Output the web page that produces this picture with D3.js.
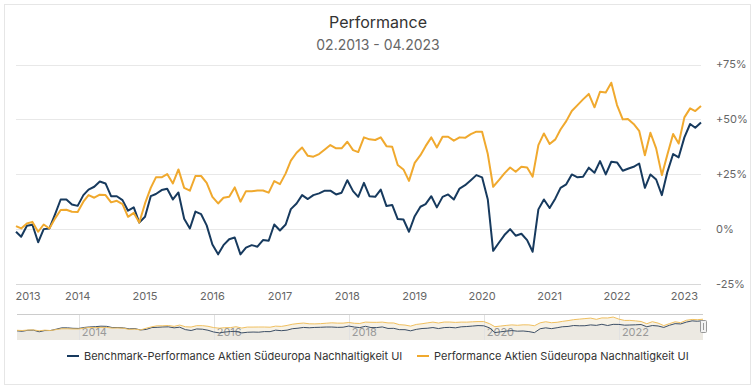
<!DOCTYPE html>
<html>
<head>
<meta charset="utf-8">
<script src="https://cdn.jsdelivr.net/npm/d3@7/dist/d3.min.js"></script>
<style>
  body { margin: 0; background: #fff; font-family: Inter, "Noto Sans", sans-serif; }
  svg { display: block; }
</style>
</head>
<body>
<svg width="756" height="389"></svg>
<script>
// monthly points, first one is 02.2013
var startMonth = new Date(2013, 1, 1);

var benchmark = [
  -1.2, -3.5, 1.5, 2, -6, 0, 0.3, 6.8, 13.5, 13.5, 11.2, 10.6, 15.5, 18, 19.3, 21.7,
  20.8, 15, 15, 13.2, 8.4, 9.9, 3, 5.6, 15, 16, 17.8, 18.4, 13.5, 16.7, 4.7, 0.3,
  8, 6.8, 1.7, -7, -11.5, -7.3, -4.6, -3.8, -11.5, -8.4, -7.3, -8, -5, -5.3, 2.1, -0.6,
  2.1, 9.1, 11.7, 15.5, 13.7, 15.5, 16.3, 17.5, 17.5, 15.8, 16.6, 22.3, 17.3, 14.7, 21.1, 15,
  14.7, 18, 10.5, 11, 4.6, 4.4, -1.2, 5.9, 10.2, 11.4, 15, 9.9, 14.7, 15.8, 13.5, 18.5,
  20, 22.3, 24.6, 23.6, 13.5, -9.9, -6.2, -2.7, 0, -3, -2.1, -5, -10.3, 9, 13.5, 9.6,
  14, 18.8, 20.4, 24.9, 23.6, 23.9, 28, 25.7, 31, 24.9, 30.7, 30.4, 26.6, 27.5, 28.4, 29.9,
  18.8, 24.9, 22.6, 15.5, 26.1, 34.2, 32.7, 41.8, 47.9, 46.2, 48.6
];

var fund = [
  1.4, 0.3, 2.6, 3.3, -1.2, 2.1, 0.3, 4.9, 8.7, 8.8, 7.9, 7.8, 12.5, 15.5, 14.3, 15.7,
  15.5, 12.2, 12.9, 11.4, 5.6, 7.4, 3, 11.7, 18.8, 23.6, 23.6, 25.1, 20.8, 27.2, 18.8, 17.5,
  24.2, 24.2, 21.1, 14.7, 11.7, 14.3, 14.7, 19, 12.5, 17.3, 17.3, 17.6, 17.6, 16.6, 21.9, 20.5,
  25.4, 31.2, 34.8, 37.2, 33.4, 33, 34.2, 36.3, 38.3, 36.8, 36.8, 39.8, 36, 35.1, 41.8, 40.9,
  40.6, 41.8, 37.8, 37.5, 29.2, 27.2, 22, 30.2, 33.7, 37.8, 41.8, 37.2, 42.1, 42.1, 40.3, 41.8,
  41.6, 43.3, 44.4, 44.4, 34.2, 19.3, 22.3, 25.4, 28.1, 26.1, 28.4, 28.1, 23.9, 38.3, 43.6, 38.8,
  40.9, 45.4, 49.2, 53.8, 56.5, 59.1, 61.6, 55.5, 62.6, 62.2, 66.7, 56.5, 50, 50.2, 47.9, 44.8,
  33.7, 43.9, 36.8, 24.6, 34, 43.3, 39, 50.9, 55, 53.8, 56.1
];

var yTicks = [-25, 0, 25, 50, 75];
var yearLabels = [2013, 2014, 2015, 2016, 2017, 2018, 2019, 2020, 2021, 2022, 2023];
var navYears = [2014, 2016, 2018, 2020, 2022];
var seriesNames = ["Benchmark-Performance Aktien Südeuropa Nachhaltigkeit UI", "Performance Aktien Südeuropa Nachhaltigkeit UI"];
var colors = ["#173a5e", "#f0a92e"];

var svg = d3.select("svg");

var dates = benchmark.map(function(d, i) { return d3.timeMonth.offset(startMonth, i); });

// card
svg.append("rect")
  .attr("x", 4.5).attr("y", 4.5).attr("width", 746).attr("height", 380)
  .attr("fill", "#fff").attr("stroke", "#e6e6e6");

svg.append("text")
  .attr("x", 378).attr("y", 28)
  .attr("text-anchor", "middle")
  .style("font-size", "16px").style("fill", "#333")
  .text("Performance");

svg.append("text")
  .attr("x", 378).attr("y", 50)
  .attr("text-anchor", "middle")
  .style("font-size", "14px").style("fill", "#666")
  .text("02.2013 - 04.2023");

var x = d3.scaleTime()
  .domain([dates[0], dates[dates.length - 1]])
  .range([16, 701]);

var y = d3.scaleLinear()
  .domain([-25, 75])
  .range([284, 64.5]);

// grid
svg.append("g").selectAll("line")
  .data(yTicks)
  .enter().append("line")
  .attr("x1", 16).attr("x2", 701)
  .attr("y1", function(d) { return Math.round(y(d)) + 0.5; })
  .attr("y2", function(d) { return Math.round(y(d)) + 0.5; })
  .attr("stroke", function(d) { return d === -25 ? "#d8d8d8" : "#e8e8e8"; });

svg.append("g").selectAll("text")
  .data(yTicks)
  .enter().append("text")
  .attr("x", 716)
  .attr("y", function(d) { return y(d); })
  .attr("dy", "0.35em")
  .style("font-size", "11px").style("fill", "#666")
  .text(function(d) { return d > 0 ? "+" + d + "%" : d + "%"; });

svg.append("g").selectAll("text")
  .data(yearLabels)
  .enter().append("text")
  .attr("x", function(d) { return Math.max(x(new Date(d, 0, 1)), 28); })
  .attr("y", 300)
  .attr("text-anchor", "middle")
  .style("font-size", "11px").style("fill", "#666")
  .text(function(d) { return d; });

var line = d3.line()
  .x(function(d, i) { return x(dates[i]); })
  .y(function(d) { return y(d); });

[benchmark, fund].forEach(function(s, i) {
  svg.append("path")
    .datum(s)
    .attr("fill", "none")
    .attr("stroke", colors[i])
    .attr("stroke-width", 2)
    .attr("stroke-linejoin", "round")
    .attr("d", line);
});

// navigator
var navTop = 314, navBottom = 340;
var nx = d3.scaleTime()
  .domain(x.domain())
  .range([17, 703]);
var ny = d3.scaleLinear()
  .domain([-12, 67])
  .range([333, 317]);

var nav = svg.append("g");

nav.append("path")
  .datum(fund)
  .attr("fill", "#f7f2e6")
  .attr("d", d3.area()
    .x(function(d, i) { return nx(dates[i]); })
    .y0(navBottom)
    .y1(function(d) { return ny(d); }));

nav.append("path")
  .datum(benchmark)
  .attr("fill", "#ece9e2")
  .attr("d", d3.area()
    .x(function(d, i) { return nx(dates[i]); })
    .y0(navBottom)
    .y1(function(d) { return ny(d); }));

nav.selectAll(".navgrid")
  .data(navYears)
  .enter().append("line")
  .attr("class", "navgrid")
  .attr("x1", function(d) { return Math.round(nx(new Date(d, 0, 1))) + 0.5; })
  .attr("x2", function(d) { return Math.round(nx(new Date(d, 0, 1))) + 0.5; })
  .attr("y1", navTop).attr("y2", navBottom)
  .attr("stroke", "#e2e2e2");

nav.selectAll(".navlabel")
  .data(navYears)
  .enter().append("text")
  .attr("class", "navlabel")
  .attr("x", function(d) { return nx(new Date(d, 0, 1)) + 3; })
  .attr("y", 336)
  .style("font-size", "11px").style("fill", "#999")
  .text(function(d) { return d; });

[benchmark, fund].forEach(function(s, i) {
  nav.append("path")
    .datum(s)
    .attr("fill", "none")
    .attr("stroke", i === 0 ? "#3d4f66" : "#f0c060")
    .attr("stroke-width", 1)
    .attr("d", d3.line()
      .x(function(d, j) { return nx(dates[j]); })
      .y(function(d) { return ny(d); }));
});

nav.append("line")
  .attr("x1", 17).attr("x2", 703)
  .attr("y1", navTop + 0.5).attr("y2", navTop + 0.5)
  .attr("stroke", "#cccccc");

// right handle
nav.append("rect")
  .attr("x", 700.5).attr("y", 320.5).attr("width", 6).attr("height", 12).attr("rx", 1)
  .attr("fill", "#f2f2f2").attr("stroke", "#999");
nav.append("line")
  .attr("x1", 703.5).attr("x2", 703.5).attr("y1", 323).attr("y2", 330)
  .attr("stroke", "#999");

// legend
var legendX = [67, 417];
var legend = svg.append("g");
seriesNames.forEach(function(name, i) {
  legend.append("line")
    .attr("x1", legendX[i]).attr("x2", legendX[i] + 12)
    .attr("y1", 356).attr("y2", 356)
    .attr("stroke", colors[i]).attr("stroke-width", 2);
  legend.append("text")
    .attr("x", legendX[i] + 17).attr("y", 360)
    .style("font-size", "11px").style("fill", "#333")
    .text(name);
});
</script>
</body>
</html>
